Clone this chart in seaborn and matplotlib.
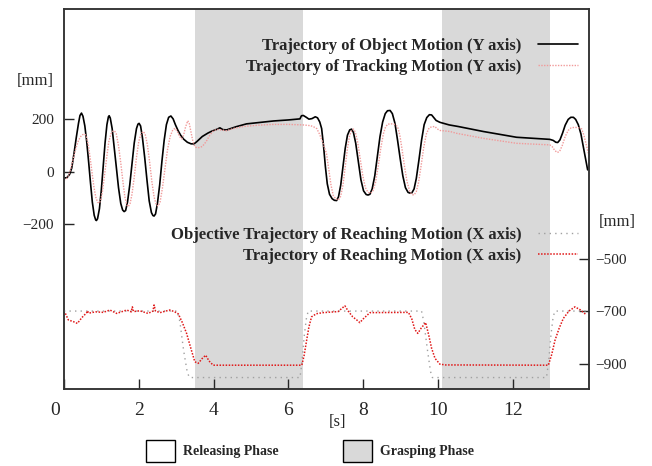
import matplotlib
matplotlib.use("Agg")
import matplotlib.pyplot as plt
from matplotlib.patches import Patch
from matplotlib.lines import Line2D
import matplotlib.transforms as mtransforms
import seaborn as sns

sns.set_style("ticks")
plt.rcParams["font.family"] = ["Liberation Serif", "DejaVu Serif"]

# time [s] and object motion, Y axis [mm]
t_obj = [0, 0.08, 0.15, 0.21, 0.27, 0.33, 0.39, 0.43, 0.47, 0.51, 0.56, 0.61,
         0.66, 0.71, 0.76, 0.81, 0.85, 0.87, 0.9, 0.95, 1.0, 1.05, 1.1, 1.15,
         1.19, 1.21, 1.24, 1.29, 1.34, 1.4, 1.46, 1.52, 1.57, 1.61, 1.65, 1.7,
         1.76, 1.82, 1.88, 1.94, 1.98, 2.01, 2.05, 2.1, 2.16, 2.22, 2.28, 2.34,
         2.38, 2.41, 2.45, 2.5, 2.56, 2.62, 2.68, 2.74, 2.8, 2.86, 2.92, 2.98,
         3.05, 3.12, 3.2, 3.3, 3.4, 3.48, 3.55, 3.7, 3.85, 3.95, 4.1, 4.17,
         4.25, 4.35, 4.6, 4.88, 5.2, 5.6, 6.0, 6.31, 6.35, 6.4, 6.48, 6.55,
         6.63, 6.72, 6.78, 6.84, 6.89, 6.94, 6.99, 7.04, 7.1, 7.17, 7.23, 7.29,
         7.34, 7.4, 7.46, 7.52, 7.58, 7.64, 7.69, 7.74, 7.8, 7.87, 7.94, 8.01,
         8.08, 8.13, 8.18, 8.24, 8.31, 8.38, 8.45, 8.52, 8.59, 8.65, 8.72, 8.78,
         8.85, 8.92, 8.99, 9.06, 9.13, 9.2, 9.26, 9.3, 9.36, 9.42, 9.49, 9.56,
         9.63, 9.7, 9.77, 9.83, 9.88, 9.95, 10.05, 10.3, 10.54, 11.21, 12.1,
         12.99, 13.08, 13.15, 13.2, 13.26, 13.33, 13.4, 13.48, 13.55, 13.62,
         13.68, 13.75, 13.82, 13.9, 13.96, 14.0]
y_obj = [-23, -22, -10, 15, 70, 130, 185, 215, 224, 212, 175, 115,
         40, -40, -115, -165, -183, -185, -178, -140, -70, 20, 110, 180,
         210, 214, 205, 165, 100, 20, -60, -120, -145, -151, -147, -115,
         -50, 30, 110, 165, 182, 185, 175, 130, 55, -30, -110, -155,
         -166, -168, -160, -120, -50, 40, 120, 180, 208, 213, 202, 180,
         158, 140, 125, 113, 107, 107, 115, 135, 148, 155, 163, 168,
         161, 160, 172, 183, 188, 194, 198, 202, 214, 215, 208, 201,
         203, 210, 206, 190, 165, 100, 20, -45, -85, -102, -108, -109,
         -95, -50, 20, 90, 140, 160, 163, 150, 110, 40, -30, -72,
         -86, -88, -85, -65, -15, 60, 135, 190, 222, 233, 234, 222,
         185, 120, 50, -15, -60, -78, -81, -80, -65, -25, 45, 120,
         180, 207, 218, 217, 208, 196, 189, 179, 173, 154, 132,
         124, 120, 113, 112, 122, 148, 178, 200, 208, 208,
         200, 180, 145, 85, 40, 8]

# tracking motion, Y axis [mm]
t_trk = [0, 0.06, 0.12, 0.18, 0.25, 0.32, 0.39, 0.45, 0.5, 0.56, 0.6, 0.65,
         0.7, 0.75, 0.8, 0.85, 0.9, 0.94, 0.98, 1.03, 1.08, 1.14, 1.2, 1.26,
         1.31, 1.35, 1.4, 1.46, 1.52, 1.58, 1.63, 1.68, 1.72, 1.77, 1.82, 1.88,
         1.94, 2.0, 2.06, 2.12, 2.17, 2.23, 2.29, 2.35, 2.41, 2.47, 2.52, 2.57,
         2.63, 2.7, 2.77, 2.84, 2.91, 2.97, 3.03, 3.09, 3.15, 3.2, 3.25, 3.31,
         3.35, 3.4, 3.45, 3.5, 3.56, 3.62, 3.7, 3.8, 3.9, 4.0, 4.1, 4.2,
         4.35, 4.55, 4.8, 5.2, 5.6, 6.0, 6.4, 6.6, 6.7, 6.76, 6.83, 6.9,
         6.96, 7.02, 7.08, 7.14, 7.2, 7.27, 7.34, 7.4, 7.46, 7.52, 7.58, 7.64,
         7.7, 7.74, 7.79, 7.85, 7.92, 7.99, 8.06, 8.13, 8.2, 8.26, 8.33, 8.4,
         8.47, 8.54, 8.6, 8.66, 8.76, 8.85, 8.92, 8.98, 9.04, 9.1, 9.17, 9.24,
         9.3, 9.36, 9.42, 9.48, 9.55, 9.62, 9.69, 9.76, 9.83, 9.92, 9.97, 10.05,
         10.32, 10.5, 11.21, 12.1, 12.99, 13.06, 13.12, 13.19, 13.25, 13.32,
         13.4, 13.48, 13.56, 13.66, 13.76, 13.84, 13.9, 13.96, 14.02]
y_trk = [-30, -28, -15, 10, 50, 90, 120, 135, 142, 144, 135, 105,
         55, 0, -55, -95, -115, -119, -110, -75, -20, 50, 115, 145,
         155, 157, 145, 100, 35, -40, -95, -125, -132, -120, -85, -20,
         55, 115, 145, 154, 145, 105, 40, -35, -95, -125, -130, -115,
         -65, 10, 85, 135, 160, 166, 155, 135, 126, 140, 170, 195,
         185, 150, 115, 96, 92, 93, 97, 115, 140, 157, 162, 160,
         157, 166, 173, 178, 181, 181, 179, 176, 170, 165, 145, 120,
         95, 70, 10, -50, -90, -103, -107, -92, -50, 20, 90, 140,
         160, 163, 152, 115, 50, -15, -60, -78, -81, -72, -40, 20,
         90, 145, 172, 182, 183, 181, 172, 140, 85, 25, -35, -72,
         -86, -88, -75, -40, 25, 95, 145, 167, 172, 173, 165, 158,
         154, 147, 128, 109, 103, 95, 82, 74, 78, 100,
         135, 158, 168, 170, 168, 164, 140, 105, 71]

# objective reaching trajectory, X axis [mm]
t_goal = [0, 3.03, 3.1, 3.2, 3.3, 3.36, 6.31, 6.36, 6.42, 6.48, 6.53, 9.56,
          9.62, 9.72, 9.8, 9.85, 12.9, 12.96, 13.02, 13.08, 13.13, 14.0]
x_goal = [-700, -700, -740, -850, -935, -953, -953, -900, -800, -730, -700,
          -700, -740, -850, -930, -953, -953, -890, -790, -720, -700, -700]

# reaching motion, X axis [mm]
t_rch = [0.04, 0.12, 0.25, 0.36, 0.48, 0.61, 0.63, 0.66, 0.85, 1.05, 1.23,
         1.41, 1.68, 1.8, 1.83, 1.86, 2.03, 2.25, 2.38, 2.41, 2.45, 2.57,
         2.83, 2.95, 3.06, 3.17, 3.28, 3.4, 3.5, 3.59, 3.7, 3.79, 3.88, 3.99,
         6.36, 6.42, 6.49, 6.55, 6.62, 6.75, 6.93, 7.33, 7.51, 7.6, 7.72,
         7.83, 7.91, 8.0, 8.18, 9.21, 9.3, 9.38, 9.46, 9.55, 9.67, 9.75,
         9.83, 9.92, 10.05, 10.2, 12.95, 13.04, 13.13, 13.24, 13.35, 13.5,
         13.66, 13.8, 13.97]
x_rch = [-709, -734, -740, -747, -725, -706, -699, -708, -703, -705, -696,
         -709, -696, -703, -684, -702, -699, -709, -700, -677, -700, -706,
         -696, -702, -711, -745, -785, -845, -893, -899, -880, -868, -890, -906,
         -906, -870, -810, -760, -722, -710, -706, -702, -680, -700, -722,
         -734, -744, -730, -706, -705, -730, -770, -785, -765, -744, -790,
         -842, -880, -902, -905, -906, -865, -810, -765, -728, -700,
         -684, -695, -715]

grasp_phases = [(3.5, 6.4), (10.1, 13.0)]

lab_obj = "Trajectory of Object Motion (Y axis)"
lab_trk = "Trajectory of Tracking Motion (Y axis)"
lab_goal = "Objective Trajectory of Reaching Motion (X axis)"
lab_rch = "Trajectory of Reaching Motion (X axis)"

c_obj = "black"
c_trk = "#f19a9a"
c_goal = "#a0a0a0"
c_rch = "#e01818"
c_grasp = "#d9d9d9"

fig = plt.figure(figsize=(6.52, 4.66), dpi=100)
ax = fig.add_axes([0.098, 0.165, 0.805, 0.816])
ax2 = ax.twinx()

for a, b in grasp_phases:
    ax.axvspan(a, b, color=c_grasp, lw=0, zorder=0)

sns.lineplot(x=t_obj, y=y_obj, ax=ax, color=c_obj, lw=1.2)
sns.lineplot(x=t_trk, y=y_trk, ax=ax, color=c_trk, lw=1.0, linestyle=(0, (1, 1)))
sns.lineplot(x=t_goal, y=x_goal, ax=ax2, color=c_goal, lw=1.0, linestyle=(0, (1, 3)))
sns.lineplot(x=t_rch, y=x_rch, ax=ax2, color=c_rch, lw=1.1, linestyle=(0, (1, 1)))

ax.set_xlim(0, 14.03)
ax.set_ylim(-827, 621)
ax2.set_ylim(-997, 450)
ax.set_xticks([0, 2, 4, 6, 8, 10, 12])
ax.set_yticks([-200, 0, 200])
ax2.set_yticks([-900, -700, -500])
ax.set_yticklabels(["\u2212200", "0", "200"])
ax2.set_yticklabels(["\u2212900", "\u2212700", "\u2212500"])

ax.tick_params(axis="x", direction="in", length=7, width=1, labelsize=14, pad=9)
ax.tick_params(axis="y", direction="in", length=7, width=1, labelsize=11, pad=7)
ax2.tick_params(axis="y", direction="in", length=7, width=1, labelsize=11, pad=5)
ax.set_xlabel("")
ax.set_ylabel("")
ax2.set_ylabel("")

# shift the "0" label slightly left like the original
lbl0 = ax.get_xticklabels()[0]
lbl0.set_transform(lbl0.get_transform() + mtransforms.ScaledTranslation(-9 / 100, 0, fig.dpi_scale_trans))

for a in (ax, ax2):
    for s in a.spines.values():
        s.set_color("#333333")
        s.set_linewidth(1.1)
    a.grid(False)

fig.text(35 / 652, 1 - 81 / 466, "[mm]", fontsize=12, ha="center", va="center")
fig.text(617 / 652, 1 - 222 / 466, "[mm]", fontsize=12, ha="center", va="center")
fig.text(338 / 652, 1 - 422 / 466, "[s]", fontsize=12, ha="center", va="center")

leg_kw = dict(frameon=False, markerfirst=False, handlelength=2.4, handletextpad=1.0,
              labelspacing=0.28, borderpad=0, borderaxespad=0,
              prop={"weight": "bold", "size": 12})
h1 = [Line2D([], [], color=c_obj, lw=1.2),
      Line2D([], [], color=c_trk, lw=1.0, linestyle=(0, (1, 1)))]
fig.legend(h1, [lab_obj, lab_trk], loc="upper right",
           bbox_to_anchor=(578 / 652, 1 - 38 / 466), **leg_kw)
h2 = [Line2D([], [], color=c_goal, lw=1.0, linestyle=(0, (1, 3))),
      Line2D([], [], color=c_rch, lw=1.1, linestyle=(0, (1, 1)))]
fig.legend(h2, [lab_goal, lab_rch], loc="upper right",
           bbox_to_anchor=(578 / 652, 1 - 227 / 466), **leg_kw)

h3 = [Patch(facecolor="white", edgecolor="black", lw=1),
      Patch(facecolor=c_grasp, edgecolor="black", lw=1)]
fig.legend(h3, ["Releasing Phase", "Grasping Phase"], loc="center",
           bbox_to_anchor=(310 / 652, 1 - 451 / 466), ncol=2, frameon=False,
           handlelength=2.1, handleheight=1.95, handletextpad=0.6,
           columnspacing=4.6, borderpad=0, prop={"weight": "bold", "size": 10})

fig.savefig("out.png", dpi=100)
